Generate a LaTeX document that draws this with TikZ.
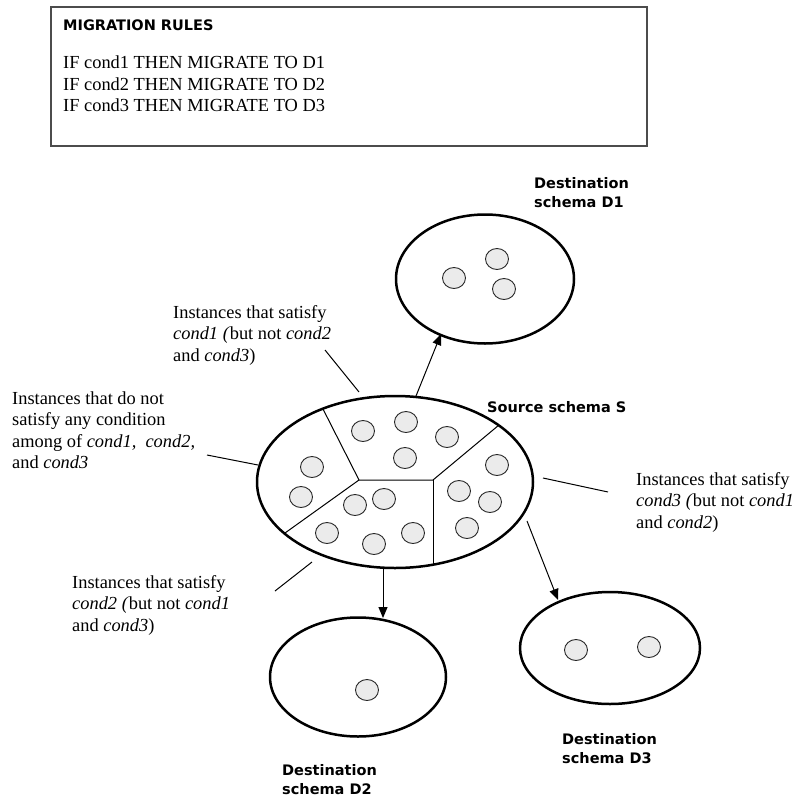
\documentclass[tikz,border=0pt]{standalone}
\usepackage{fontspec}
\setmainfont{Liberation Serif}
\newfontfamily\labelfont{DejaVu Sans}[BoldFont={DejaVu Sans Bold}]
\usetikzlibrary{arrows.meta,shapes.geometric}

\tikzset{
  schema/.style={draw=black,line width=2.5pt},
  part/.style={draw=black,line width=1pt},
  inst/.style={ellipse,draw=black!85,line width=0.9pt,fill=black!8,
               minimum width=23pt,minimum height=21pt,inner sep=0pt},
  title/.style={font=\labelfont\bfseries\fontsize{14.5}{19}\selectfont,
                align=left,anchor=west,inner sep=0pt},
  note/.style={font=\fontsize{18.4}{21.5}\selectfont,align=left,anchor=west,inner sep=0pt},
  lead/.style={draw=black,line width=1pt},
  migrate/.style={draw=black,line width=1pt,-{Triangle[length=11pt,width=9pt]}},
}

\begin{document}
\begin{tikzpicture}[x=1pt,y=-1pt]
\useasboundingbox (0,0) rectangle (794,798);

% rules box
\draw[draw=black!70,line width=2pt] (51,7) rectangle (647,146);
\node[title] (rulestitle) at (63,25) {MIGRATION RULES};
\node[note,anchor=north west] (rules) at (63,56)
  {IF cond1 THEN MIGRATE TO D1\\IF cond2 THEN MIGRATE TO D2\\IF cond3 THEN MIGRATE TO D3};

% source schema with its four partitions
\node[ellipse,schema,minimum width=276pt,minimum height=172pt,inner sep=0pt] (src) at (395,482) {};
\coordinate (pa) at (359,480);
\coordinate (pb) at (433,480);
\draw[part] (323,409) -- (pa) -- (pb) -- (499,425);
\draw[part] (pa) -- (285,533);
\draw[part] (pb) -- (433,566);
\node[title] (srclabel) at (487,407) {Source schema S};

% instances in the source schema
\foreach \p in {(363,431),(406,422),(447,437),(405,458),
                (312,467),(301,497),
                (355,505),(384,499),(327,533),(374,544),(413,533),
                (497,465),(459,491),(490,502),(467,528)}
  \node[inst] at \p {};

% destination schemas
\node[ellipse,schema,minimum width=178pt,minimum height=129pt,inner sep=0pt] (d1) at (485,279) {};
\foreach \p in {(497,259),(454,278),(504,289)} \node[inst] at \p {};
\node[title] (d1label) at (534,193) {Destination\\schema D1};

\node[ellipse,schema,minimum width=176pt,minimum height=119pt,inner sep=0pt] (d2) at (358,677) {};
\node[inst] at (367,690) {};
\node[title] (d2label) at (282,780) {Destination\\schema D2};

\node[ellipse,schema,minimum width=180pt,minimum height=112pt,inner sep=0pt] (d3) at (610,648) {};
\foreach \p in {(576,650),(649,647)} \node[inst] at \p {};
\node[title] (d3label) at (562,749) {Destination\\schema D3};

% migration arrows
\coordinate (s1) at (416,396);
\coordinate (t1) at (441,334);
\draw[migrate] (s1) -- (t1);
\coordinate (s2) at (383,568);
\coordinate (t2) at (383,618);
\draw[migrate] (s2) -- (t2);
\coordinate (s3) at (527,521);
\coordinate (t3) at (558,600);
\draw[migrate] (s3) -- (t3);

% partition descriptions
\node[note] (n1) at (173,335)
  {Instances that satisfy\\\textit{cond1 (}but not \textit{cond2}\\and \textit{cond3})};
\node[note] (n0) at (12,430)
  {Instances that do not\\satisfy any condition\\among of \textit{cond1,}\ \ \textit{cond2,}\\and \textit{cond3}};
\node[note] (n3) at (636,502)
  {Instances that satisfy\\\textit{cond3 (}but not \textit{cond1}\\and \textit{cond2})};
\node[note] (n2) at (72,605)
  {Instances that satisfy\\\textit{cond2 (}but not \textit{cond1}\\and \textit{cond3})};

\coordinate (l1a) at (325,350); \coordinate (l1b) at (359,392);
\draw[lead] (l1a) -- (l1b);
\coordinate (l0a) at (207,455); \coordinate (l0b) at (258,465);
\draw[lead] (l0a) -- (l0b);
\coordinate (l3a) at (543,478); \coordinate (l3b) at (608,492);
\draw[lead] (l3a) -- (l3b);
\coordinate (l2a) at (275,591); \coordinate (l2b) at (312,562);
\draw[lead] (l2a) -- (l2b);
\end{tikzpicture}
\end{document}
